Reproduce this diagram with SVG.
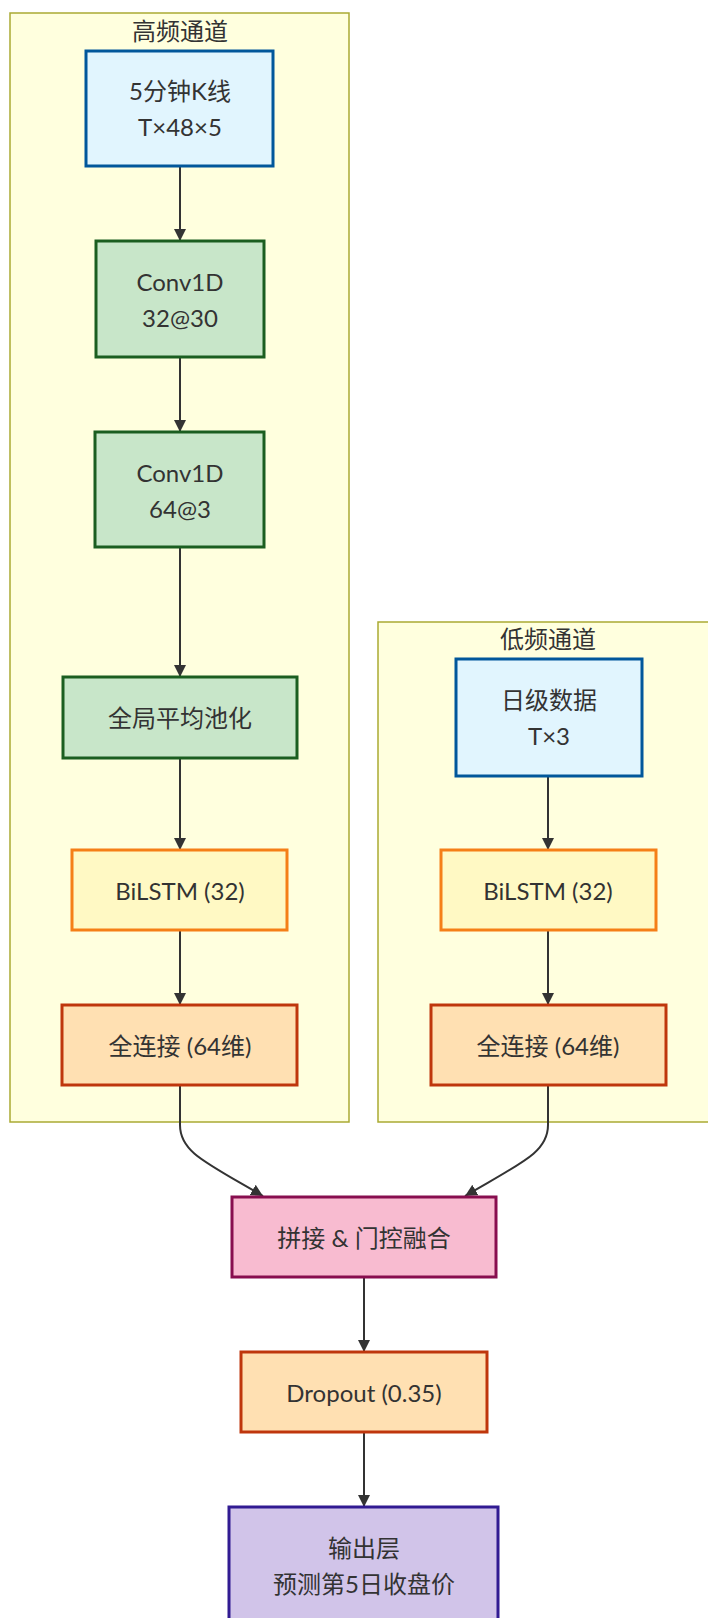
<svg xmlns="http://www.w3.org/2000/svg" width="708" height="1618" viewBox="0 0 708 1618">
<defs>
<style>
text{font-family:Lato,"Noto Sans CJK SC",sans-serif;font-size:24px;fill:#333;text-anchor:middle;dominant-baseline:central}
.cluster rect{fill:#ffffde;stroke:#aaaa33;stroke-width:1.5}
.node rect{stroke-width:3}
.in rect{fill:#e1f5fe;stroke:#01579b}
.conv rect{fill:#c8e6c9;stroke:#1b5e20}
.lstm rect{fill:#fff9c4;stroke:#f57f17}
.fc rect{fill:#ffe0b2;stroke:#bf360c}
.fuse rect{fill:#f8bbd0;stroke:#880e4f}
.out rect{fill:#d1c4e9;stroke:#311b92}
.edge{fill:none;stroke:#333;stroke-width:2;marker-end:url(#arrow)}
</style>
<marker id="arrow" viewBox="0 0 12 12" refX="12" refY="6" markerWidth="12" markerHeight="12" markerUnits="userSpaceOnUse" orient="auto">
<path d="M0,0 L12,6 L0,12 z" fill="#333"/>
</marker>
</defs>
<rect width="708" height="1618" fill="#ffffff"/>
<g id="cluster-high" class="cluster">
<rect x="10" y="13" width="339" height="1109"/>
<text x="180" y="30">高频通道</text>
</g>
<g id="cluster-low" class="cluster">
<rect x="378" y="622" width="340" height="500"/>
<text x="548" y="638">低频通道</text>
</g>
<g id="connectors">
<path class="edge" d="M180,166 V241"/>
<path class="edge" d="M180,357 V432"/>
<path class="edge" d="M180,547 V677"/>
<path class="edge" d="M180,758 V850"/>
<path class="edge" d="M180,930 V1005"/>
<path class="edge" d="M548,776 V850"/>
<path class="edge" d="M548,930 V1005"/>
<path class="edge" d="M180,1085 V1125 C180,1152 205,1162 263,1196"/>
<path class="edge" d="M548,1085 V1125 C548,1152 523,1162 465,1196"/>
<path class="edge" d="M364,1277 V1352"/>
<path class="edge" d="M364,1432 V1507"/>
</g>
<g id="n-kline" class="node in">
<rect x="86" y="51" width="187" height="115"/>
<text x="180" y="90">5分钟K线</text>
<text x="180" y="126">T×48×5</text>
</g>
<g id="n-conv1" class="node conv">
<rect x="96" y="241" width="168" height="116"/>
<text x="180" y="281">Conv1D</text>
<text x="180" y="317">32@30</text>
</g>
<g id="n-conv2" class="node conv">
<rect x="95" y="432" width="169" height="115"/>
<text x="180" y="472">Conv1D</text>
<text x="180" y="508">64@3</text>
</g>
<g id="n-pool" class="node conv">
<rect x="63" y="677" width="234" height="81"/>
<text x="180" y="717">全局平均池化</text>
</g>
<g id="n-lstm-high" class="node lstm">
<rect x="72" y="850" width="215" height="80"/>
<text x="180" y="890">BiLSTM (32)</text>
</g>
<g id="n-fc-high" class="node fc">
<rect x="62" y="1005" width="235" height="80"/>
<text x="180" y="1045">全连接 (64维)</text>
</g>
<g id="n-daily" class="node in">
<rect x="456" y="659" width="186" height="117"/>
<text x="549" y="699">日级数据</text>
<text x="549" y="735">T×3</text>
</g>
<g id="n-lstm-low" class="node lstm">
<rect x="441" y="850" width="215" height="80"/>
<text x="548" y="890">BiLSTM (32)</text>
</g>
<g id="n-fc-low" class="node fc">
<rect x="431" y="1005" width="235" height="80"/>
<text x="548" y="1045">全连接 (64维)</text>
</g>
<g id="n-fuse" class="node fuse">
<rect x="232" y="1197" width="264" height="80"/>
<text x="364" y="1237">拼接 &amp; 门控融合</text>
</g>
<g id="n-dropout" class="node fc">
<rect x="241" y="1352" width="246" height="80"/>
<text x="364" y="1392">Dropout (0.35)</text>
</g>
<g id="n-output" class="node out">
<rect x="229" y="1507" width="269" height="116"/>
<text x="364" y="1547">输出层</text>
<text x="364" y="1583">预测第5日收盘价</text>
</g>
</svg>
